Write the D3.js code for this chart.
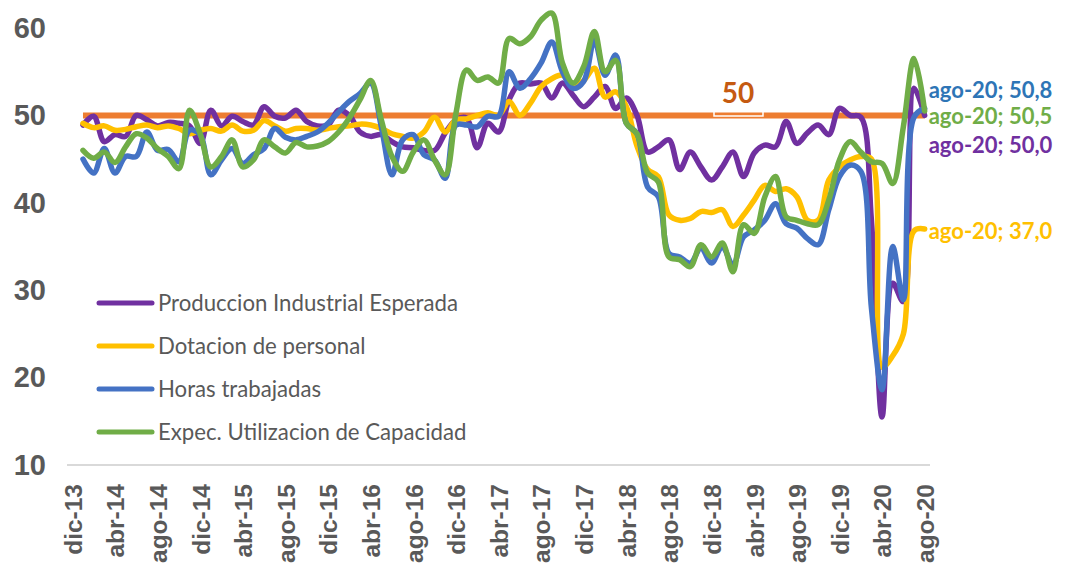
<!DOCTYPE html>
<html>
<head>
<meta charset="utf-8">
<script src="https://cdn.jsdelivr.net/npm/d3@7"></script>
<style>
  body { margin: 0; background: #fff; }
  svg { display: block; font-family: Lato, "Open Sans", sans-serif; }
</style>
</head>
<body>
<svg id="chart" width="1067" height="566"></svg>
<script>
// months (categories), dic-13 .. ago-20
var months = [
  "dic-13","ene-14","feb-14","mar-14","abr-14","may-14","jun-14","jul-14","ago-14","sep-14","oct-14","nov-14",
  "dic-14","ene-15","feb-15","mar-15","abr-15","may-15","jun-15","jul-15","ago-15","sep-15","oct-15","nov-15",
  "dic-15","ene-16","feb-16","mar-16","abr-16","may-16","jun-16","jul-16","ago-16","sep-16","oct-16","nov-16",
  "dic-16","ene-17","feb-17","mar-17","abr-17","may-17","jun-17","jul-17","ago-17","sep-17","oct-17","nov-17",
  "dic-17","ene-18","feb-18","mar-18","abr-18","may-18","jun-18","jul-18","ago-18","sep-18","oct-18","nov-18",
  "dic-18","ene-19","feb-19","mar-19","abr-19","may-19","jun-19","jul-19","ago-19","sep-19","oct-19","nov-19",
  "dic-19","ene-20","feb-20","mar-20","abr-20","may-20","jun-20","jul-20","ago-20"
];
var tickLabels = ["dic-13","abr-14","ago-14","dic-14","abr-15","ago-15","dic-15","abr-16","ago-16","dic-16",
  "abr-17","ago-17","dic-17","abr-18","ago-18","dic-18","abr-19","ago-19","dic-19","abr-20","ago-20"];
var yTicks = [10, 20, 30, 40, 50, 60];

var produccion = [null,
  48.9,49.9,47.0,47.8,47.6,50.0,49.5,48.8,49.2,49.1,48.8,
  46.8,50.6,48.8,49.9,49.3,48.9,51.0,49.9,49.7,50.6,49.3,48.8,
  48.9,50.6,50.0,48.1,47.6,47.8,47.0,46.4,46.3,46.0,46.0,48.0,
  49.5,49.7,46.3,49.1,48.1,51.8,53.7,53.6,53.7,52.0,53.7,52.3,
  51.0,52.1,53.3,50.8,52.0,50.0,45.8,46.4,47.2,43.8,45.8,44.1,
  42.6,44.1,45.8,43.0,45.7,46.6,46.4,49.3,46.8,48.0,48.9,47.8,
  50.8,50.0,49.8,38.0,15.5,30.8,28.7,53.1,50.0];
var dotacion = [null,
  49.1,48.6,48.8,48.3,48.4,48.7,48.9,48.6,48.8,48.5,47.9,
  48.3,48.5,48.2,48.9,48.2,48.3,49.4,48.8,48.2,48.5,48.5,48.3,
  48.5,48.7,48.8,49.0,48.9,48.5,47.9,47.6,47.4,48.1,49.8,48.1,
  49.5,49.6,50.0,50.3,50.0,51.6,50.0,51.4,53.3,54.2,54.6,53.5,
  54.0,55.4,52.1,52.7,51.0,46.5,43.8,43.0,38.6,38.0,38.2,39.0,
  38.9,39.2,37.3,38.6,40.3,42.0,41.3,41.6,40.7,38.0,38.0,42.6,
  44.1,44.9,45.3,45.0,21.2,22.5,25.0,36.8,37.0];
var horas = [null,
  45.0,43.4,46.2,43.4,45.3,45.3,48.1,46.0,46.1,44.7,48.3,
  47.8,43.2,44.9,46.2,44.5,45.5,46.2,48.5,47.5,47.2,47.6,48.1,
  49.1,50.4,51.6,52.5,53.7,48.7,43.2,47.2,47.8,45.5,44.9,42.8,
  48.9,48.9,48.7,49.9,49.9,55.0,53.1,54.2,56.0,58.4,55.0,53.1,
  53.9,58.6,54.6,56.9,49.1,47.9,41.8,40.7,34.2,33.8,33.1,34.8,
  33.1,35.0,32.9,36.1,36.9,38.0,39.9,37.6,37.1,35.9,35.2,39.2,
  43.0,44.3,43.6,28.0,18.6,35.0,28.9,49.8,50.8];
var capacidad = [null,
  46.0,45.1,45.8,44.6,46.4,47.9,47.4,46.2,45.3,43.9,50.6,
  47.9,44.1,45.3,47.2,44.1,44.9,47.2,46.4,45.7,46.9,46.4,46.5,
  47.0,48.1,49.7,51.8,54.0,49.5,45.3,43.6,45.8,47.2,44.9,43.2,
  50.2,55.2,54.0,54.4,53.7,58.8,58.2,59.0,60.9,61.7,56.0,53.7,
  55.6,59.6,55.0,56.3,49.1,47.9,43.4,42.4,33.8,33.5,32.7,35.2,
  33.8,35.4,32.1,37.5,36.5,40.7,43.0,38.4,38.0,37.6,37.5,40.3,
  44.9,47.0,45.8,44.7,44.5,42.2,48.7,56.5,50.5];
var referencia = [null].concat(months.slice(1).map(function() { return 50; }));

var seriesNames = ["Produccion Industrial Esperada", "Dotacion de personal", "Horas trabajadas", "Expec. Utilizacion de Capacidad"];
var seriesColors = ["#7030A0", "#FFC000", "#4472C4", "#70AD47"];
var labelColors = ["#7030A0", "#FFC000", "#2E75B6", "#70AD47"];

var svg = d3.select("#chart");
var x = d3.scalePoint().domain(months).range([67, 930]).padding(0.5);
var y = d3.scaleLinear().domain([10, 60]).range([465, 28]);
var textGray = "#595959";

// x axis
var xAxis = svg.append("g")
  .attr("transform", "translate(0,465)")
  .call(d3.axisBottom(x).tickValues(tickLabels).tickSize(0).tickPadding(0));
xAxis.select(".domain").attr("stroke", "#D9D9D9").attr("stroke-width", 2).attr("d", "M67,0H930");
xAxis.selectAll("text")
  .attr("transform", "translate(0,19) rotate(-90)")
  .attr("text-anchor", "end")
  .attr("dy", "0.36em").attr("y", 0)
  .attr("fill", textGray)
  .style("font-size", "24.5px").style("font-weight", "bold");

// y axis
var yAxis = svg.append("g")
  .attr("transform", "translate(46,0)")
  .call(d3.axisLeft(y).tickValues(yTicks).tickSize(0).tickPadding(0));
yAxis.select(".domain").remove();
yAxis.selectAll("text")
  .attr("fill", textGray)
  .style("font-size", "29px").style("font-weight", "bold");

var line = d3.line()
  .defined(function(d) { return d != null; })
  .x(function(d, i) { return x(months[i]); })
  .y(function(d) { return y(d); })
  .curve(d3.curveCatmullRom.alpha(0.5));

// reference line at 50
svg.append("path").datum(referencia)
  .attr("d", line.curve(d3.curveLinear))
  .attr("fill", "none").attr("stroke", "#ED7D31").attr("stroke-width", 6);
line.curve(d3.curveCatmullRom.alpha(0.5));

svg.append("rect")
  .attr("x", 714).attr("y", 78).attr("width", 49).attr("height", 38)
  .attr("fill", "none").attr("stroke", "#fff").attr("stroke-width", 1.5);
svg.append("text")
  .attr("x", 738).attr("y", 103)
  .attr("text-anchor", "middle")
  .attr("fill", "#C55A11")
  .style("font-size", "28px").style("font-weight", "bold")
  .text("50");

var allSeries = [produccion, dotacion, horas, capacidad];
svg.selectAll(".serie")
  .data(allSeries)
  .enter().append("path")
  .attr("class", "serie")
  .attr("d", line)
  .attr("fill", "none")
  .attr("stroke", function(d, i) { return seriesColors[i]; })
  .attr("stroke-width", 5.5)
  .attr("stroke-linejoin", "round")
  .attr("stroke-linecap", "round");

// end labels
var fmt = d3.formatLocale({ decimal: ",", thousands: ".", grouping: [3], currency: ["", ""] }).format(".1f");
var labelShift = [38, 10, -10, 13];
var last = months.length - 1;
svg.selectAll(".endLabel")
  .data(allSeries)
  .enter().append("text")
  .attr("class", "endLabel")
  .attr("x", x(months[last]) + 4)
  .attr("y", function(d, i) { return y(d[last]) + labelShift[i]; })
  .attr("fill", function(d, i) { return labelColors[i]; })
  .style("font-size", "22px").style("font-weight", "bold")
  .text(function(d) { return months[last] + "; " + fmt(d[last]); });

// legend
var legend = svg.append("g").selectAll("g")
  .data(seriesNames)
  .enter().append("g")
  .attr("transform", function(d, i) { return "translate(0," + (303 + i * 43) + ")"; });
legend.append("line")
  .attr("x1", 99).attr("x2", 152)
  .attr("stroke", function(d, i) { return seriesColors[i]; })
  .attr("stroke-width", 5).attr("stroke-linecap", "round");
legend.append("text")
  .attr("x", 158).attr("dy", "0.35em")
  .attr("fill", textGray)
  .style("font-size", "22.2px")
  .text(function(d) { return d; });
</script>
</body>
</html>
